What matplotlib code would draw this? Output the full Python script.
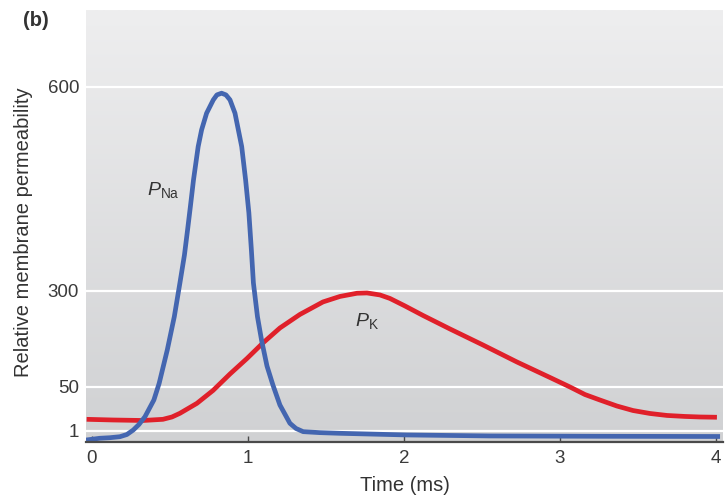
import numpy as np
import matplotlib
matplotlib.use("Agg")
import matplotlib.pyplot as plt
from matplotlib.colors import LinearSegmentedColormap

plt.rcParams['font.family'] = ['Liberation Sans', 'DejaVu Sans']
plt.rcParams['mathtext.fontset'] = 'custom'
plt.rcParams['mathtext.rm'] = 'Liberation Sans'
plt.rcParams['mathtext.it'] = 'Liberation Sans:italic'

# Time axis (ms) and relative permeabilities
t_na = [-0.038, 0.051, 0.115, 0.179, 0.224, 0.265, 0.301, 0.340, 0.397, 0.431,
        0.483, 0.528, 0.564, 0.593, 0.613, 0.631, 0.651, 0.681, 0.703, 0.735,
        0.778, 0.801, 0.831, 0.859, 0.885, 0.917, 0.960, 0.985, 1.006, 1.022,
        1.035, 1.061, 1.087, 1.122, 1.160, 1.205, 1.269, 1.308, 1.354, 1.462,
        1.590, 2.019, 2.551, 3.256, 4.026]
p_na = [0.18, 0.34, 0.39, 0.48, 0.68, 2.1, 8.2, 16.9, 35.5, 59.6,
        146.4, 233.1, 311.8, 352.9, 389.7, 424.0, 463.2, 512.2, 536.8, 561.3,
        580.9, 588.2, 590.7, 588.2, 580.9, 561.3, 512.2, 463.2, 414.7, 360.3,
        311.8, 233.1, 172.4, 104.7, 55.2, 29.9, 9.6, 3.8, 0.94, 0.85,
        0.79, 0.64, 0.55, 0.52, 0.50]

t_k = [-0.034, 0.135, 0.327, 0.455, 0.513, 0.564, 0.673, 0.776, 0.885, 0.994,
       1.096, 1.205, 1.333, 1.481, 1.590, 1.699, 1.763, 1.846, 1.910, 2.006,
       2.122, 2.295, 2.506, 2.724, 2.936, 3.064, 3.160, 3.256, 3.365, 3.468,
       3.577, 3.686, 3.801, 3.897, 4.006]
p_k = [14.0, 13.25, 12.7, 14.0, 16.6, 20.7, 31.8, 46.1, 83.9, 124.2,
       164.6, 203.6, 238.8, 271.4, 285.7, 294.0, 294.8, 289.6, 280.5, 261.0,
       236.2, 201.0, 159.4, 115.1, 74.7, 50.0, 41.6, 35.5, 28.8, 23.8,
       20.5, 18.3, 17.2, 16.6, 16.3]

x_ticks = [0, 1, 2, 3, 4]
y_ticks = [1, 50, 300, 600]

# Piecewise-linear permeability scale (compressed low range, expanded high range)
_vals = np.array([-10.0, 0.0, 1.0, 50.0, 300.0, 600.0, 800.0])
_pos = np.array([-110.0, 0.0, 11.0, 55.0, 151.0, 355.0, 491.0])


def _fwd(v):
    return np.interp(v, _vals, _pos)


def _inv(p):
    return np.interp(p, _pos, _vals)


fig = plt.figure(figsize=(7.26, 4.99), dpi=100)
ax = fig.add_axes([86 / 726, 1 - 442 / 499, (723 - 86) / 726, (442 - 10) / 499])
ax.set_yscale('function', functions=(_fwd, _inv))

# Vertical grey gradient background
cmap = LinearSegmentedColormap.from_list('bg', ['#d0d1d3', '#eeeeef'])
grad = np.linspace(0, 1, 256).reshape(-1, 1)
ax.imshow(grad, cmap=cmap, origin='lower', aspect='auto',
          extent=[0, 1, 0, 1], transform=ax.transAxes, zorder=0)

for yv in y_ticks:
    ax.axhline(yv, color='white', lw=1.6, zorder=1)

ax.plot(t_k, p_k, color='#e0202a', lw=3.4, solid_capstyle='butt',
        solid_joinstyle='round', zorder=3)
ax.plot(t_na, p_na, color='#4466b0', lw=3.4, solid_capstyle='butt',
        solid_joinstyle='round', zorder=4)

ax.set_xlim(-0.038, 4.045)
ax.set_ylim(0, 713)

ax.set_xticks(x_ticks)
ax.set_xticklabels([str(v) for v in x_ticks])
ax.set_yticks(y_ticks)
ax.set_yticklabels([str(v) for v in y_ticks])

for s in ['left', 'right', 'top']:
    ax.spines[s].set_visible(False)
ax.spines['bottom'].set_color('#4a4a4a')
ax.spines['bottom'].set_linewidth(1.6)
ax.spines['bottom'].set_zorder(5)

ax.tick_params(axis='x', direction='in', length=4, width=1.0, color='#4a4a4a',
               pad=6, labelsize=13.5, labelcolor='#3a3a3a')
ax.tick_params(axis='y', length=0, pad=5, labelsize=13.5, labelcolor='#3a3a3a')

ax.set_xlabel('Time (ms)', fontsize=14.5, color='#333333', labelpad=6)
fig.text(24 / 726, 1 - 232 / 499, 'Relative membrane permeability', rotation=90,
         ha='center', va='center', fontsize=14.5, color='#333333')
fig.text(23 / 726, 1 - 21 / 499, '(b)', ha='left', va='center', fontsize=14.5,
         fontweight='bold', color='#333333')

ax.text(0.355, 448, r'$P_{\mathrm{Na}}$', fontsize=14, color='#333333',
        ha='left', va='center', zorder=6)
ax.text(1.685, 222, r'$P_{\mathrm{K}}$', fontsize=14, color='#333333',
        ha='left', va='center', zorder=6)

fig.savefig('out.png', dpi=100)
